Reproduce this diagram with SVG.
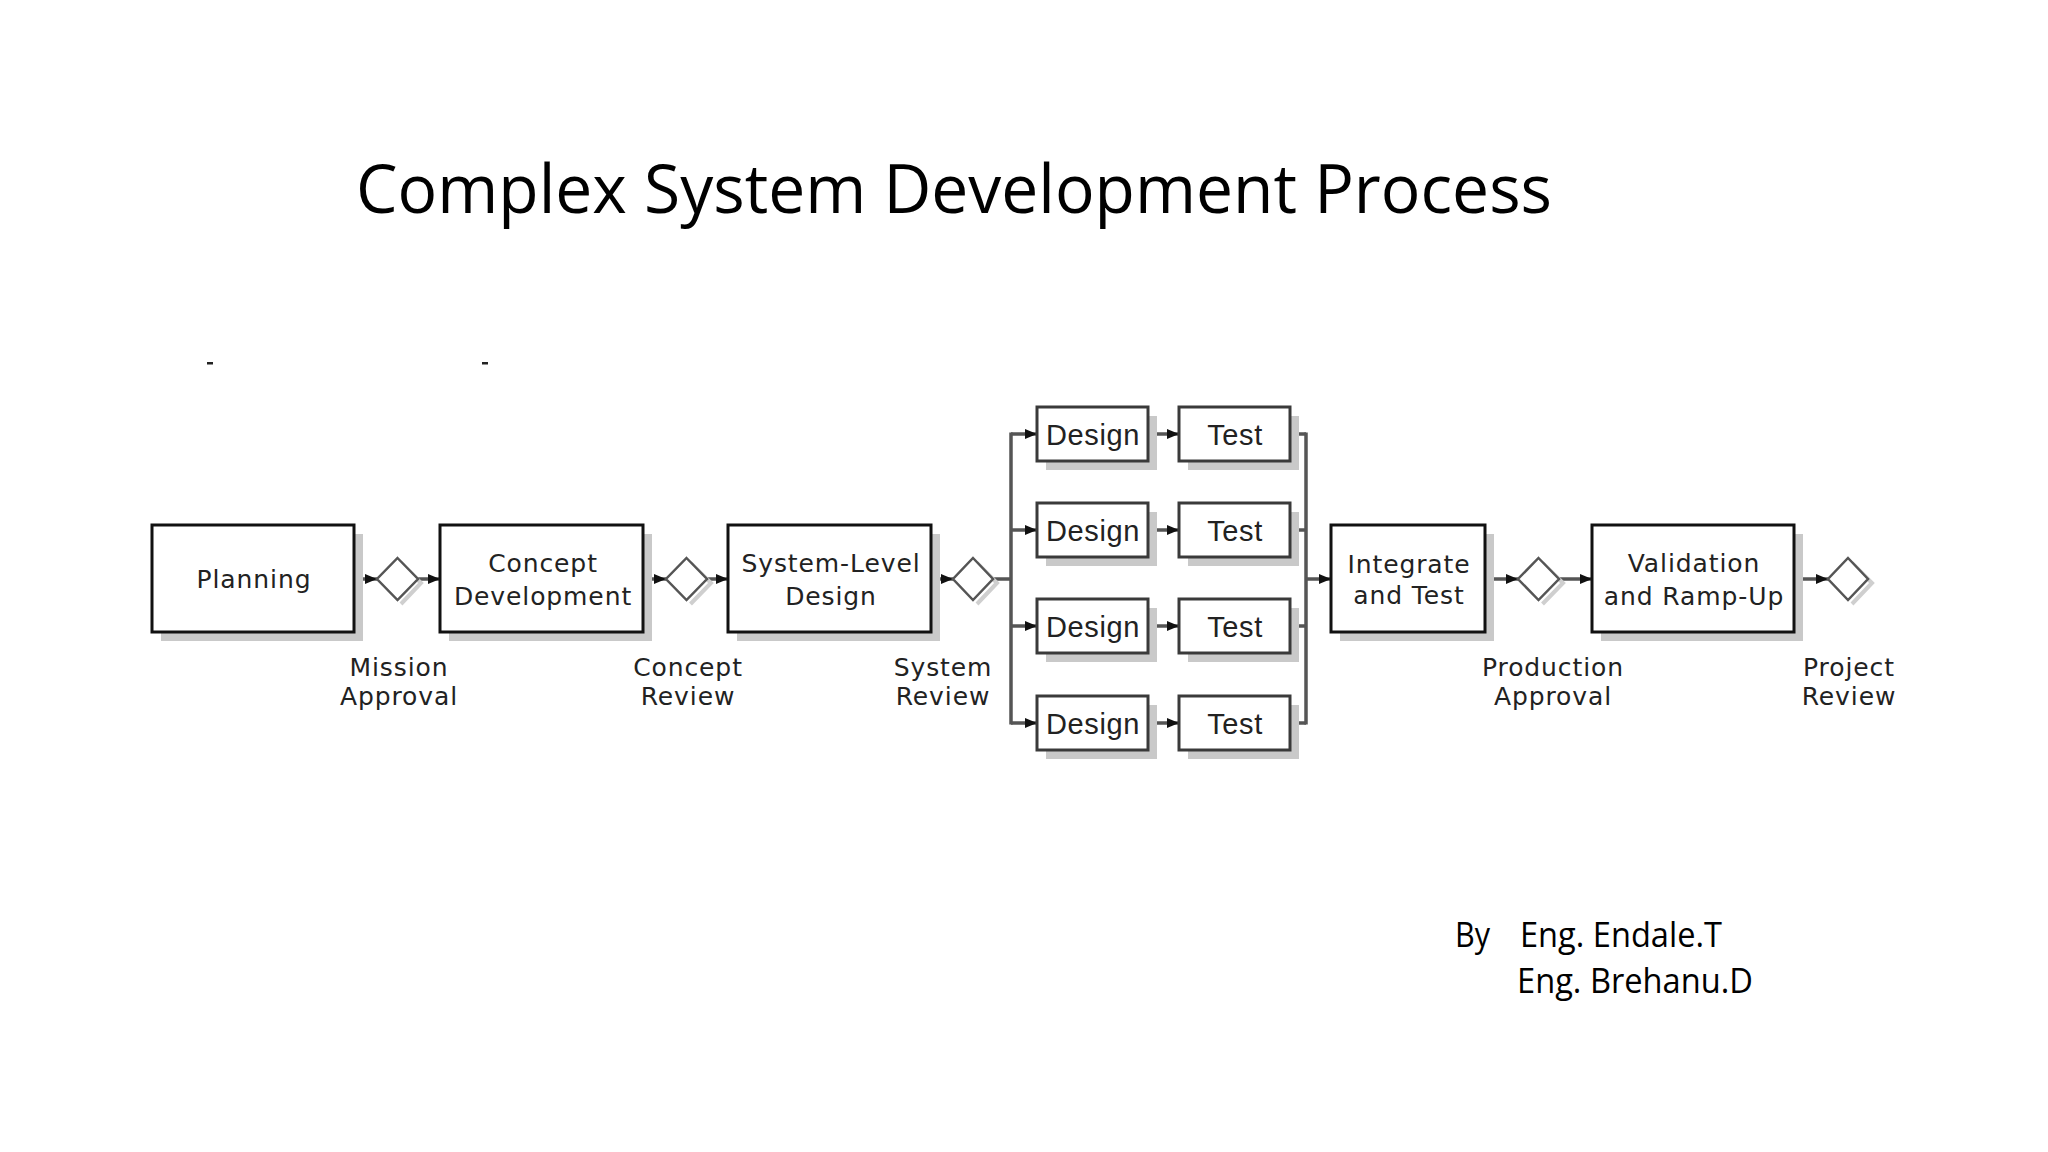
<svg xmlns="http://www.w3.org/2000/svg" width="2048" height="1152" viewBox="0 0 2048 1152">
<style>
.box{fill:#fff;stroke:#111;stroke-width:3}
.sbox{fill:#fff;stroke:#3a3a3a;stroke-width:3}
.shadow{fill:#c9c9c9;stroke:none}
.dia{fill:#fff;stroke:#555;stroke-width:2.5}
.dshadow{fill:none;stroke:#cfcfcf;stroke-width:4}
.lbl{font-family:"DejaVu Sans","Liberation Sans",sans-serif;font-size:25px;letter-spacing:0.9px;fill:#222;text-anchor:middle}
.slbl{font-family:"Liberation Sans",Arial,sans-serif;font-size:29px;letter-spacing:0.6px;fill:#222;text-anchor:middle}
.ln{fill:none;stroke:#555;stroke-width:3.5}
.ttl{font-family:"Open Sans","Noto Sans",sans-serif;font-size:68px;fill:#000}
.auth{font-family:"Open Sans","Noto Sans",sans-serif;font-size:35px;fill:#000}
</style>
<defs>
<marker id="ah" markerUnits="userSpaceOnUse" markerWidth="12" markerHeight="10" refX="12" refY="5" orient="auto">
<path d="M0,0 L12,5 L0,10 Z" fill="#111"/>
</marker>
</defs>
<rect width="2048" height="1152" fill="#fff"/>

<text class="ttl" x="356" y="213" textLength="1196" lengthAdjust="spacingAndGlyphs">Complex System Development Process</text>

<rect x="207" y="362" width="6" height="2.5" fill="#222"/>
<rect x="482" y="362" width="6" height="2.5" fill="#222"/>

<g id="connectors">
<line class="ln" x1="354" y1="579" x2="377" y2="579" marker-end="url(#ah)"/>
<line class="ln" x1="418" y1="579" x2="440" y2="579" marker-end="url(#ah)"/>
<line class="ln" x1="643" y1="579" x2="666" y2="579" marker-end="url(#ah)"/>
<line class="ln" x1="707" y1="579" x2="728" y2="579" marker-end="url(#ah)"/>
<line class="ln" x1="931" y1="579" x2="953" y2="579" marker-end="url(#ah)"/>
<line class="ln" x1="993" y1="579" x2="1011" y2="579"/>
<line class="ln" x1="1011" y1="432.5" x2="1011" y2="724.5"/>
<line class="ln" x1="1011" y1="434" x2="1037" y2="434" marker-end="url(#ah)"/>
<line class="ln" x1="1011" y1="530" x2="1037" y2="530" marker-end="url(#ah)"/>
<line class="ln" x1="1011" y1="626" x2="1037" y2="626" marker-end="url(#ah)"/>
<line class="ln" x1="1011" y1="723" x2="1037" y2="723" marker-end="url(#ah)"/>
<line class="ln" x1="1148" y1="434" x2="1179" y2="434" marker-end="url(#ah)"/>
<line class="ln" x1="1148" y1="530" x2="1179" y2="530" marker-end="url(#ah)"/>
<line class="ln" x1="1148" y1="626" x2="1179" y2="626" marker-end="url(#ah)"/>
<line class="ln" x1="1148" y1="723" x2="1179" y2="723" marker-end="url(#ah)"/>
<line class="ln" x1="1290" y1="434" x2="1306" y2="434"/>
<line class="ln" x1="1290" y1="530" x2="1306" y2="530"/>
<line class="ln" x1="1290" y1="626" x2="1306" y2="626"/>
<line class="ln" x1="1290" y1="723" x2="1306" y2="723"/>
<line class="ln" x1="1306" y1="432.5" x2="1306" y2="724.5"/>
<line class="ln" x1="1306" y1="579" x2="1331" y2="579" marker-end="url(#ah)"/>
<line class="ln" x1="1485" y1="579" x2="1518" y2="579" marker-end="url(#ah)"/>
<line class="ln" x1="1559" y1="579" x2="1592" y2="579" marker-end="url(#ah)"/>
<line class="ln" x1="1794" y1="579" x2="1828" y2="579" marker-end="url(#ah)"/>
</g>

<g id="planning">
<rect class="shadow" x="161" y="534" width="202" height="107"/>
<rect class="box" x="152" y="525" width="202" height="107"/>
<text class="lbl" x="254" y="588">Planning</text>
</g>

<g id="mission-approval">
<path class="dshadow" d="M401,563 L421,583 L401,604"/>
<path class="dia" d="M397.5,558 L418,579 L397.5,600 L377,579 Z"/>
<text class="lbl" x="399" y="676">Mission</text>
<text class="lbl" x="399" y="705">Approval</text>
</g>

<g id="concept-development">
<rect class="shadow" x="449" y="534" width="203" height="107"/>
<rect class="box" x="440" y="525" width="203" height="107"/>
<text class="lbl" x="543" y="572">Concept</text>
<text class="lbl" x="543" y="605">Development</text>
</g>

<g id="concept-review">
<path class="dshadow" d="M690.5,563 L711,583 L690.5,604"/>
<path class="dia" d="M686.5,558 L707,579 L686.5,600 L666,579 Z"/>
<text class="lbl" x="688" y="676">Concept</text>
<text class="lbl" x="688" y="705">Review</text>
</g>

<g id="system-level-design">
<rect class="shadow" x="737" y="534" width="203" height="107"/>
<rect class="box" x="728" y="525" width="203" height="107"/>
<text class="lbl" x="831" y="572">System-Level</text>
<text class="lbl" x="831" y="605">Design</text>
</g>

<g id="system-review">
<path class="dshadow" d="M977,563 L997,583 L977,604"/>
<path class="dia" d="M973,558 L993,579 L973,600 L953,579 Z"/>
<text class="lbl" x="943" y="676">System</text>
<text class="lbl" x="943" y="705">Review</text>
</g>

<g id="design-1">
<rect class="shadow" x="1046" y="416" width="111" height="54"/>
<rect class="sbox" x="1037" y="407" width="111" height="54"/>
<text class="slbl" x="1093" y="445">Design</text>
</g>
<g id="test-1">
<rect class="shadow" x="1188" y="416" width="111" height="54"/>
<rect class="sbox" x="1179" y="407" width="111" height="54"/>
<text class="slbl" x="1235" y="445">Test</text>
</g>
<g id="design-2">
<rect class="shadow" x="1046" y="512" width="111" height="54"/>
<rect class="sbox" x="1037" y="503" width="111" height="54"/>
<text class="slbl" x="1093" y="541">Design</text>
</g>
<g id="test-2">
<rect class="shadow" x="1188" y="512" width="111" height="54"/>
<rect class="sbox" x="1179" y="503" width="111" height="54"/>
<text class="slbl" x="1235" y="541">Test</text>
</g>
<g id="design-3">
<rect class="shadow" x="1046" y="608" width="111" height="54"/>
<rect class="sbox" x="1037" y="599" width="111" height="54"/>
<text class="slbl" x="1093" y="637">Design</text>
</g>
<g id="test-3">
<rect class="shadow" x="1188" y="608" width="111" height="54"/>
<rect class="sbox" x="1179" y="599" width="111" height="54"/>
<text class="slbl" x="1235" y="637">Test</text>
</g>
<g id="design-4">
<rect class="shadow" x="1046" y="705" width="111" height="54"/>
<rect class="sbox" x="1037" y="696" width="111" height="54"/>
<text class="slbl" x="1093" y="734">Design</text>
</g>
<g id="test-4">
<rect class="shadow" x="1188" y="705" width="111" height="54"/>
<rect class="sbox" x="1179" y="696" width="111" height="54"/>
<text class="slbl" x="1235" y="734">Test</text>
</g>

<g id="integrate-and-test">
<rect class="shadow" x="1340" y="534" width="154" height="107"/>
<rect class="box" x="1331" y="525" width="154" height="107"/>
<text class="lbl" x="1409" y="573">Integrate</text>
<text class="lbl" x="1409" y="604">and Test</text>
</g>

<g id="production-approval">
<path class="dshadow" d="M1542.5,563 L1563,583 L1542.5,604"/>
<path class="dia" d="M1538.5,558 L1559,579 L1538.5,600 L1518,579 Z"/>
<text class="lbl" x="1553" y="676">Production</text>
<text class="lbl" x="1553" y="705">Approval</text>
</g>

<g id="validation-ramp-up">
<rect class="shadow" x="1601" y="534" width="202" height="107"/>
<rect class="box" x="1592" y="525" width="202" height="107"/>
<text class="lbl" x="1694" y="572">Validation</text>
<text class="lbl" x="1694" y="605">and Ramp-Up</text>
</g>

<g id="project-review">
<path class="dshadow" d="M1852,563 L1872,583 L1852,604"/>
<path class="dia" d="M1848,558 L1868,579 L1848,600 L1828,579 Z"/>
<text class="lbl" x="1849" y="676">Project</text>
<text class="lbl" x="1849" y="705">Review</text>
</g>

<g id="authors">
<text class="auth" x="1455" y="947" textLength="35" lengthAdjust="spacingAndGlyphs">By</text>
<text class="auth" x="1520" y="947" textLength="202" lengthAdjust="spacingAndGlyphs">Eng. Endale.T</text>
<text class="auth" x="1517" y="993" textLength="236" lengthAdjust="spacingAndGlyphs">Eng. Brehanu.D</text>
</g>
</svg>
